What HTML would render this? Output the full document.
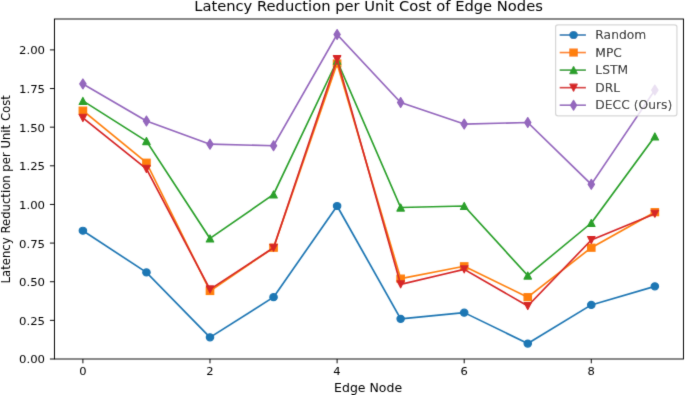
<!DOCTYPE html>
<html><head><meta charset="utf-8"><title>Latency Reduction per Unit Cost of Edge Nodes</title>
<style>
html,body{margin:0;padding:0;background:#fff;}
body{width:685px;height:395px;overflow:hidden;}
svg{display:block;will-change:transform;opacity:0.999;}
text{font-family:"DejaVu Sans","Liberation Sans",sans-serif;fill:#000;}
</style></head><body>
<svg width="685" height="395" viewBox="0 0 685 395">
<rect x="0" y="0" width="685" height="395" fill="#ffffff"/>
<defs><clipPath id="ax"><rect x="51.61" y="19.0" width="596.21" height="340.0"/></clipPath></defs>
<filter id="soft" x="0" y="0" width="685" height="395" filterUnits="userSpaceOnUse"><feConvolveMatrix order="3" kernelMatrix="0.0113 0.0838 0.0113 0.0838 0.6193 0.0838 0.0113 0.0838 0.0113" divisor="1" bias="0" edgeMode="duplicate" preserveAlpha="false"/></filter>
<g transform="scale(1.055,1)" filter="url(#soft)">

<text x="349.32" y="11.3" font-size="13.95" text-anchor="middle">Latency Reduction per Unit Cost of Edge Nodes</text>
<g clip-path="url(#ax)">
<polyline points="78.58,230.72 138.82,272.45 199.05,337.36 259.29,297.18 319.53,206.00 379.76,318.82 440.00,312.63 500.24,343.55 560.47,304.91 620.71,286.36" fill="none" stroke="#1f77b4" stroke-width="1.62" stroke-linejoin="round" stroke-linecap="square"/>
<circle cx="78.58" cy="230.72" r="3.50" fill="#1f77b4" stroke="#1f77b4" stroke-width="1.17" stroke-linejoin="round"/>
<circle cx="138.82" cy="272.45" r="3.50" fill="#1f77b4" stroke="#1f77b4" stroke-width="1.17" stroke-linejoin="round"/>
<circle cx="199.05" cy="337.36" r="3.50" fill="#1f77b4" stroke="#1f77b4" stroke-width="1.17" stroke-linejoin="round"/>
<circle cx="259.29" cy="297.18" r="3.50" fill="#1f77b4" stroke="#1f77b4" stroke-width="1.17" stroke-linejoin="round"/>
<circle cx="319.53" cy="206.00" r="3.50" fill="#1f77b4" stroke="#1f77b4" stroke-width="1.17" stroke-linejoin="round"/>
<circle cx="379.76" cy="318.82" r="3.50" fill="#1f77b4" stroke="#1f77b4" stroke-width="1.17" stroke-linejoin="round"/>
<circle cx="440.00" cy="312.63" r="3.50" fill="#1f77b4" stroke="#1f77b4" stroke-width="1.17" stroke-linejoin="round"/>
<circle cx="500.24" cy="343.55" r="3.50" fill="#1f77b4" stroke="#1f77b4" stroke-width="1.17" stroke-linejoin="round"/>
<circle cx="560.47" cy="304.91" r="3.50" fill="#1f77b4" stroke="#1f77b4" stroke-width="1.17" stroke-linejoin="round"/>
<circle cx="620.71" cy="286.36" r="3.50" fill="#1f77b4" stroke="#1f77b4" stroke-width="1.17" stroke-linejoin="round"/>
<polyline points="78.58,110.64 138.82,162.72 199.05,291.00 259.29,247.72 319.53,63.50 379.76,278.63 440.00,266.27 500.24,297.18 560.47,247.72 620.71,212.18" fill="none" stroke="#ff7f0e" stroke-width="1.62" stroke-linejoin="round" stroke-linecap="square"/>
<rect x="75.08" y="107.14" width="7.00" height="7.00" fill="#ff7f0e" stroke="#ff7f0e" stroke-width="1.17" stroke-linejoin="miter"/>
<rect x="135.32" y="159.22" width="7.00" height="7.00" fill="#ff7f0e" stroke="#ff7f0e" stroke-width="1.17" stroke-linejoin="miter"/>
<rect x="195.55" y="287.50" width="7.00" height="7.00" fill="#ff7f0e" stroke="#ff7f0e" stroke-width="1.17" stroke-linejoin="miter"/>
<rect x="255.79" y="244.22" width="7.00" height="7.00" fill="#ff7f0e" stroke="#ff7f0e" stroke-width="1.17" stroke-linejoin="miter"/>
<rect x="316.03" y="60.00" width="7.00" height="7.00" fill="#ff7f0e" stroke="#ff7f0e" stroke-width="1.17" stroke-linejoin="miter"/>
<rect x="376.26" y="275.13" width="7.00" height="7.00" fill="#ff7f0e" stroke="#ff7f0e" stroke-width="1.17" stroke-linejoin="miter"/>
<rect x="436.50" y="262.77" width="7.00" height="7.00" fill="#ff7f0e" stroke="#ff7f0e" stroke-width="1.17" stroke-linejoin="miter"/>
<rect x="496.74" y="293.68" width="7.00" height="7.00" fill="#ff7f0e" stroke="#ff7f0e" stroke-width="1.17" stroke-linejoin="miter"/>
<rect x="556.97" y="244.22" width="7.00" height="7.00" fill="#ff7f0e" stroke="#ff7f0e" stroke-width="1.17" stroke-linejoin="miter"/>
<rect x="617.21" y="208.68" width="7.00" height="7.00" fill="#ff7f0e" stroke="#ff7f0e" stroke-width="1.17" stroke-linejoin="miter"/>
<polyline points="78.58,100.90 138.82,141.08 199.05,238.45 259.29,194.40 319.53,60.72 379.76,207.54 440.00,206.00 500.24,275.54 560.47,223.00 620.71,136.45" fill="none" stroke="#2ca02c" stroke-width="1.62" stroke-linejoin="round" stroke-linecap="square"/>
<path d="M78.58 97.40L82.08 104.40L75.08 104.40Z" fill="#2ca02c" stroke="#2ca02c" stroke-width="1.17" stroke-linejoin="round"/>
<path d="M138.82 137.58L142.32 144.58L135.32 144.58Z" fill="#2ca02c" stroke="#2ca02c" stroke-width="1.17" stroke-linejoin="round"/>
<path d="M199.05 234.95L202.55 241.95L195.55 241.95Z" fill="#2ca02c" stroke="#2ca02c" stroke-width="1.17" stroke-linejoin="round"/>
<path d="M259.29 190.90L262.79 197.90L255.79 197.90Z" fill="#2ca02c" stroke="#2ca02c" stroke-width="1.17" stroke-linejoin="round"/>
<path d="M319.53 57.22L323.03 64.22L316.03 64.22Z" fill="#2ca02c" stroke="#2ca02c" stroke-width="1.17" stroke-linejoin="round"/>
<path d="M379.76 204.04L383.26 211.04L376.26 211.04Z" fill="#2ca02c" stroke="#2ca02c" stroke-width="1.17" stroke-linejoin="round"/>
<path d="M440.00 202.50L443.50 209.50L436.50 209.50Z" fill="#2ca02c" stroke="#2ca02c" stroke-width="1.17" stroke-linejoin="round"/>
<path d="M500.24 272.04L503.74 279.04L496.74 279.04Z" fill="#2ca02c" stroke="#2ca02c" stroke-width="1.17" stroke-linejoin="round"/>
<path d="M560.47 219.50L563.97 226.50L556.97 226.50Z" fill="#2ca02c" stroke="#2ca02c" stroke-width="1.17" stroke-linejoin="round"/>
<path d="M620.71 132.95L624.21 139.95L617.21 139.95Z" fill="#2ca02c" stroke="#2ca02c" stroke-width="1.17" stroke-linejoin="round"/>
<polyline points="78.58,117.90 138.82,168.90 199.05,289.45 259.29,247.72 319.53,59.17 379.76,284.35 440.00,269.36 500.24,305.99 560.47,240.00 620.71,213.72" fill="none" stroke="#d62728" stroke-width="1.62" stroke-linejoin="round" stroke-linecap="square"/>
<path d="M78.58 121.40L82.08 114.40L75.08 114.40Z" fill="#d62728" stroke="#d62728" stroke-width="1.17" stroke-linejoin="round"/>
<path d="M138.82 172.40L142.32 165.40L135.32 165.40Z" fill="#d62728" stroke="#d62728" stroke-width="1.17" stroke-linejoin="round"/>
<path d="M199.05 292.95L202.55 285.95L195.55 285.95Z" fill="#d62728" stroke="#d62728" stroke-width="1.17" stroke-linejoin="round"/>
<path d="M259.29 251.22L262.79 244.22L255.79 244.22Z" fill="#d62728" stroke="#d62728" stroke-width="1.17" stroke-linejoin="round"/>
<path d="M319.53 62.67L323.03 55.67L316.03 55.67Z" fill="#d62728" stroke="#d62728" stroke-width="1.17" stroke-linejoin="round"/>
<path d="M379.76 287.85L383.26 280.85L376.26 280.85Z" fill="#d62728" stroke="#d62728" stroke-width="1.17" stroke-linejoin="round"/>
<path d="M440.00 272.86L443.50 265.86L436.50 265.86Z" fill="#d62728" stroke="#d62728" stroke-width="1.17" stroke-linejoin="round"/>
<path d="M500.24 309.49L503.74 302.49L496.74 302.49Z" fill="#d62728" stroke="#d62728" stroke-width="1.17" stroke-linejoin="round"/>
<path d="M560.47 243.50L563.97 236.50L556.97 236.50Z" fill="#d62728" stroke="#d62728" stroke-width="1.17" stroke-linejoin="round"/>
<path d="M620.71 217.22L624.21 210.22L617.21 210.22Z" fill="#d62728" stroke="#d62728" stroke-width="1.17" stroke-linejoin="round"/>
<polyline points="78.58,83.90 138.82,120.99 199.05,144.18 259.29,145.72 319.53,34.44 379.76,102.45 440.00,124.08 500.24,122.54 560.47,184.36 620.71,90.08" fill="none" stroke="#9467bd" stroke-width="1.62" stroke-linejoin="round" stroke-linecap="square"/>
<path d="M78.58 78.95L81.55 83.90L78.58 88.85L75.61 83.90Z" fill="#9467bd" stroke="#9467bd" stroke-width="1.17" stroke-linejoin="round"/>
<path d="M138.82 116.04L141.78 120.99L138.82 125.94L135.85 120.99Z" fill="#9467bd" stroke="#9467bd" stroke-width="1.17" stroke-linejoin="round"/>
<path d="M199.05 139.23L202.02 144.18L199.05 149.13L196.08 144.18Z" fill="#9467bd" stroke="#9467bd" stroke-width="1.17" stroke-linejoin="round"/>
<path d="M259.29 140.77L262.26 145.72L259.29 150.67L256.32 145.72Z" fill="#9467bd" stroke="#9467bd" stroke-width="1.17" stroke-linejoin="round"/>
<path d="M319.53 29.50L322.50 34.44L319.53 39.39L316.56 34.44Z" fill="#9467bd" stroke="#9467bd" stroke-width="1.17" stroke-linejoin="round"/>
<path d="M379.76 97.50L382.73 102.45L379.76 107.40L376.79 102.45Z" fill="#9467bd" stroke="#9467bd" stroke-width="1.17" stroke-linejoin="round"/>
<path d="M440.00 119.13L442.97 124.08L440.00 129.03L437.03 124.08Z" fill="#9467bd" stroke="#9467bd" stroke-width="1.17" stroke-linejoin="round"/>
<path d="M500.24 117.59L503.21 122.54L500.24 127.49L497.27 122.54Z" fill="#9467bd" stroke="#9467bd" stroke-width="1.17" stroke-linejoin="round"/>
<path d="M560.47 179.41L563.44 184.36L560.47 189.31L557.50 184.36Z" fill="#9467bd" stroke="#9467bd" stroke-width="1.17" stroke-linejoin="round"/>
<path d="M620.71 85.13L623.68 90.08L620.71 95.03L617.74 90.08Z" fill="#9467bd" stroke="#9467bd" stroke-width="1.17" stroke-linejoin="round"/>
</g>
<rect x="51.61" y="19.0" width="596.21" height="340.0" fill="none" stroke="#000" stroke-width="0.93"/>
<line x1="78.58" y1="359.0" x2="78.58" y2="363.3" stroke="#000" stroke-width="0.93"/>
<text x="78.48" y="375.3" font-size="10.9" text-anchor="middle">0</text>
<line x1="199.05" y1="359.0" x2="199.05" y2="363.3" stroke="#000" stroke-width="0.93"/>
<text x="198.95" y="375.3" font-size="10.9" text-anchor="middle">2</text>
<line x1="319.53" y1="359.0" x2="319.53" y2="363.3" stroke="#000" stroke-width="0.93"/>
<text x="319.43" y="375.3" font-size="10.9" text-anchor="middle">4</text>
<line x1="440.00" y1="359.0" x2="440.00" y2="363.3" stroke="#000" stroke-width="0.93"/>
<text x="439.90" y="375.3" font-size="10.9" text-anchor="middle">6</text>
<line x1="560.47" y1="359.0" x2="560.47" y2="363.3" stroke="#000" stroke-width="0.93"/>
<text x="560.37" y="375.3" font-size="10.9" text-anchor="middle">8</text>
<line x1="47.31" y1="359.00" x2="51.61" y2="359.00" stroke="#000" stroke-width="0.93"/>
<text x="42.71" y="363.45" font-size="11.1" text-anchor="end">0.00</text>
<line x1="47.31" y1="320.36" x2="51.61" y2="320.36" stroke="#000" stroke-width="0.93"/>
<text x="42.71" y="324.81" font-size="11.1" text-anchor="end">0.25</text>
<line x1="47.31" y1="281.73" x2="51.61" y2="281.73" stroke="#000" stroke-width="0.93"/>
<text x="42.71" y="286.18" font-size="11.1" text-anchor="end">0.50</text>
<line x1="47.31" y1="243.09" x2="51.61" y2="243.09" stroke="#000" stroke-width="0.93"/>
<text x="42.71" y="247.54" font-size="11.1" text-anchor="end">0.75</text>
<line x1="47.31" y1="204.45" x2="51.61" y2="204.45" stroke="#000" stroke-width="0.93"/>
<text x="42.71" y="208.90" font-size="11.1" text-anchor="end">1.00</text>
<line x1="47.31" y1="165.81" x2="51.61" y2="165.81" stroke="#000" stroke-width="0.93"/>
<text x="42.71" y="170.26" font-size="11.1" text-anchor="end">1.25</text>
<line x1="47.31" y1="127.17" x2="51.61" y2="127.17" stroke="#000" stroke-width="0.93"/>
<text x="42.71" y="131.62" font-size="11.1" text-anchor="end">1.50</text>
<line x1="47.31" y1="88.54" x2="51.61" y2="88.54" stroke="#000" stroke-width="0.93"/>
<text x="42.71" y="92.99" font-size="11.1" text-anchor="end">1.75</text>
<line x1="47.31" y1="49.90" x2="51.61" y2="49.90" stroke="#000" stroke-width="0.93"/>
<text x="42.71" y="54.35" font-size="11.1" text-anchor="end">2.00</text>
<text x="348.92" y="391.6" font-size="11.85" text-anchor="middle">Edge Node</text>
<text transform="translate(9.76,189.30) rotate(-90)" font-size="11.67" text-anchor="middle">Latency Reduction per Unit Cost</text>
<rect x="526.64" y="24.8" width="114.98" height="91.0" rx="2.3" ry="2.3" fill="#fff" fill-opacity="0.8" stroke="#cccccc" stroke-opacity="0.8" stroke-width="1.17"/>
<line x1="531.31" y1="35.0" x2="554.61" y2="35.0" stroke="#1f77b4" stroke-width="1.62" stroke-linecap="square"/>
<circle cx="543.66" cy="35.00" r="3.50" fill="#1f77b4" stroke="#1f77b4" stroke-width="1.17" stroke-linejoin="round"/>
<text x="564.31" y="39.20" font-size="11.67">Random</text>
<line x1="531.31" y1="52.55" x2="554.61" y2="52.55" stroke="#ff7f0e" stroke-width="1.62" stroke-linecap="square"/>
<rect x="540.16" y="49.05" width="7.00" height="7.00" fill="#ff7f0e" stroke="#ff7f0e" stroke-width="1.17" stroke-linejoin="miter"/>
<text x="564.31" y="56.75" font-size="11.67">MPC</text>
<line x1="531.31" y1="70.1" x2="554.61" y2="70.1" stroke="#2ca02c" stroke-width="1.62" stroke-linecap="square"/>
<path d="M543.66 66.60L547.16 73.60L540.16 73.60Z" fill="#2ca02c" stroke="#2ca02c" stroke-width="1.17" stroke-linejoin="round"/>
<text x="564.31" y="74.30" font-size="11.67">LSTM</text>
<line x1="531.31" y1="87.65" x2="554.61" y2="87.65" stroke="#d62728" stroke-width="1.62" stroke-linecap="square"/>
<path d="M543.66 91.15L547.16 84.15L540.16 84.15Z" fill="#d62728" stroke="#d62728" stroke-width="1.17" stroke-linejoin="round"/>
<text x="564.31" y="91.85" font-size="11.67">DRL</text>
<line x1="531.31" y1="105.2" x2="554.61" y2="105.2" stroke="#9467bd" stroke-width="1.62" stroke-linecap="square"/>
<path d="M543.66 100.25L546.62 105.20L543.66 110.15L540.69 105.20Z" fill="#9467bd" stroke="#9467bd" stroke-width="1.17" stroke-linejoin="round"/>
<text x="564.31" y="109.40" font-size="11.67">DECC (Ours)</text>
</g></svg></body></html>
